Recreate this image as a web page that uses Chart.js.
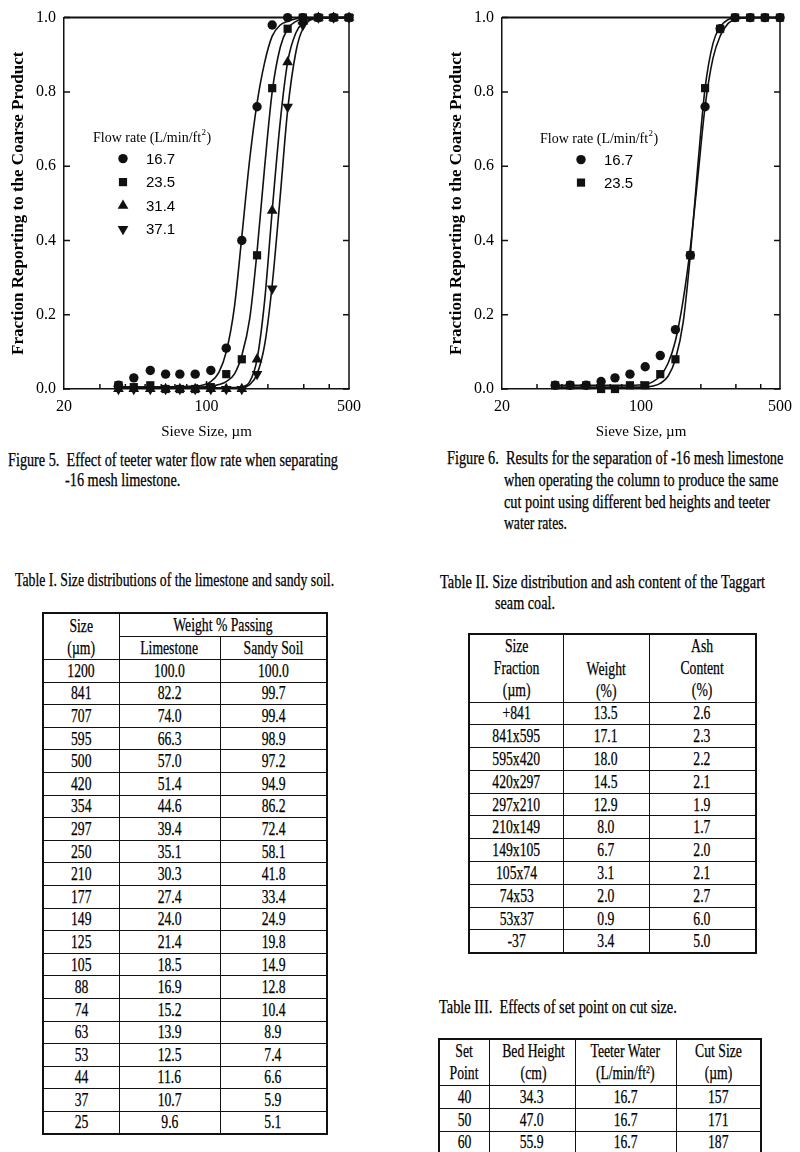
<!DOCTYPE html>
<html>
<head>
<meta charset="utf-8">
<title>Figures 5 and 6, Tables I - III</title>
<script src="https://cdn.jsdelivr.net/npm/chart.js@4.4.1/dist/chart.umd.min.js"></script>
<style>
  html, body { margin: 0; padding: 0; background: #fff; }
  #page { position: relative; width: 800px; height: 1152px; overflow: hidden; color: #000;
          font-family: "Liberation Serif", "Times New Roman", serif; -webkit-text-stroke: 0.25px #000; }
  canvas { position: absolute; top: 0; }
  .ln { position: absolute; white-space: nowrap; font-size: 18px; line-height: 20px;
        display: inline-block; transform-origin: 0 50%; }
  table { position: absolute; border-collapse: collapse; table-layout: fixed; font-size: 19px;
          border: 2px solid #111; }
  td { border: 1.5px solid #111; padding: 0; text-align: center; vertical-align: middle; line-height: 20px; }
  thead td { line-height: 22px; }
  td span { display: inline-block; transform: scaleX(0.72); white-space: nowrap; }
  sup { font-size: 11px; line-height: 0; vertical-align: 6px; }
</style>
</head>
<body>
<div id="page">
  <canvas id="fig5" width="400" height="445" style="left:0"></canvas>
  <canvas id="fig6" width="400" height="445" style="left:400px"></canvas>

  <span class="ln" style="left:8px;top:450px" data-w="330">Figure 5.&nbsp; Effect of teeter water flow rate when separating</span>
  <span class="ln" style="left:65px;top:470px" data-w="115">-16 mesh limestone.</span>

  <span class="ln" style="left:447px;top:448px" data-w="336">Figure 6.&nbsp; Results for the separation of -16 mesh limestone</span>
  <span class="ln" style="left:504px;top:470px" data-w="274">when operating the column to produce the same</span>
  <span class="ln" style="left:504px;top:492px" data-w="266">cut point using different bed heights and teeter</span>
  <span class="ln" style="left:504px;top:513px" data-w="63">water rates.</span>

  <span class="ln" style="left:15px;top:570px" data-w="319">Table I. Size distributions of the limestone and sandy soil.</span>
  <span class="ln" style="left:440px;top:572px" data-w="325">Table II. Size distribution and ash content of the Taggart</span>
  <span class="ln" style="left:495px;top:593px" data-w="60">seam coal.</span>
  <span class="ln" style="left:439px;top:997px" data-w="238">Table III.&nbsp; Effects of set point on cut size.</span>

  <table id="t1" style="left:42px;top:612px;width:284px">
    <colgroup><col style="width:76px"><col style="width:101px"><col style="width:107px"></colgroup>
    <thead>
      <tr style="height:20px"><td rowspan="2"><span>Size<br>(µm)</span></td><td colspan="2"><span>Weight % Passing</span></td></tr>
      <tr style="height:22px"><td><span>Limestone</span></td><td><span>Sandy Soil</span></td></tr>
    </thead>
    <tbody id="t1body"></tbody>
  </table>

  <table id="t2" style="left:468px;top:633px;width:287px">
    <colgroup><col style="width:94px"><col style="width:86px"><col style="width:107px"></colgroup>
    <thead>
      <tr style="height:68px"><td><span>Size<br>Fraction<br>(µm)</span></td><td style="vertical-align:bottom"><span>Weight<br>(%)</span></td><td><span>Ash<br>Content<br>(%)</span></td></tr>
    </thead>
    <tbody id="t2body"></tbody>
  </table>

  <table id="t3" style="left:438px;top:1038px;width:322px">
    <colgroup><col style="width:50px"><col style="width:86px"><col style="width:101px"><col style="width:85px"></colgroup>
    <thead>
      <tr style="height:46px"><td><span>Set<br>Point</span></td><td><span>Bed Height<br>(cm)</span></td><td><span>Teeter Water<br>(L/min/ft<sup>2</sup>)</span></td><td><span>Cut Size<br>(µm)</span></td></tr>
    </thead>
    <tbody id="t3body"></tbody>
  </table>
</div>

<script>
//**** data

// sieve sizes (um) where the points sit
const SIZES = [37, 44, 53, 63, 74, 88, 105, 125, 149, 177, 210, 250, 297, 354, 420, 500];
// sizes where the fitted curves were read
const FIT_SIZES = [37, 88, 105, 115, 125, 137, 149, 163, 177, 193, 210, 230, 250, 275, 297, 354, 500];

// Figure 5 - fraction to coarse product, one array per teeter flow rate
const fig5_167 = [0.01, 0.03, 0.05, 0.04, 0.04, 0.04, 0.05, 0.11, 0.40, 0.76, 0.98, 1.0, 1.0, 1.0, 1.0, 1.0];
const fig5_235 = [0.01, 0.005, 0.01, 0.0, 0.0, 0.0, 0.005, 0.04, 0.08, 0.36, 0.81, 0.97, 1.0, 1.0, 1.0, 1.0];
const fig5_314 = [0.0, 0.0, 0.0, 0.0, 0.0, 0.0, 0.0, 0.0, 0.0, 0.08, 0.48, 0.88, 0.99, 1.0, 1.0, 1.0];
const fig5_371 = [0.0, 0.0, 0.0, 0.0, 0.0, 0.0, 0.0, 0.0, 0.0, 0.04, 0.27, 0.76, 0.98, 1.0, 1.0, 1.0];
// Figure 5 fitted curves
const fit5_167 = [0.005, 0.008, 0.02, 0.045, 0.10, 0.22, 0.41, 0.62, 0.77, 0.88, 0.95, 0.98, 0.99, 0.997, 1.0, 1.0, 1.0];
const fit5_235 = [0.005, 0.005, 0.007, 0.012, 0.02, 0.04, 0.09, 0.19, 0.37, 0.60, 0.80, 0.92, 0.97, 0.99, 0.996, 1.0, 1.0];
const fit5_314 = [0.003, 0.003, 0.003, 0.003, 0.003, 0.004, 0.006, 0.02, 0.08, 0.24, 0.48, 0.72, 0.88, 0.96, 0.985, 1.0, 1.0];
const fit5_371 = [0.002, 0.002, 0.002, 0.002, 0.002, 0.003, 0.004, 0.012, 0.04, 0.12, 0.28, 0.52, 0.75, 0.91, 0.97, 0.998, 1.0];

// Figure 6
const fig6_167 = [0.01, 0.01, 0.01, 0.02, 0.03, 0.04, 0.06, 0.09, 0.16, 0.36, 0.76, 0.97, 1.0, 1.0, 1.0, 1.0];
const fig6_235 = [0.01, 0.01, 0.01, 0.0, 0.0, 0.01, 0.01, 0.04, 0.08, 0.36, 0.81, 0.97, 1.0, 1.0, 1.0, 1.0];
const fit6_167 = [0.01, 0.01, 0.012, 0.02, 0.035, 0.07, 0.13, 0.24, 0.38, 0.57, 0.76, 0.89, 0.95, 0.985, 0.995, 1.0, 1.0];
const fit6_235 = [0.005, 0.005, 0.005, 0.008, 0.015, 0.035, 0.08, 0.18, 0.36, 0.60, 0.81, 0.93, 0.975, 0.995, 1.0, 1.0, 1.0];

// axis ticks
const X_TICKS = [20, 100, 500];
const X_MINOR = [30, 40, 50, 60, 70, 80, 90, 100, 200, 300, 400];
const Y_TICKS = [0, 0.2, 0.4, 0.6, 0.8, 1.0];

// Table I
const t1Size = ['1200', '841', '707', '595', '500', '420', '354', '297', '250', '210', '177', '149', '125', '105', '88', '74', '63', '53', '44', '37', '25'];
const t1Lime = ['100.0', '82.2', '74.0', '66.3', '57.0', '51.4', '44.6', '39.4', '35.1', '30.3', '27.4', '24.0', '21.4', '18.5', '16.9', '15.2', '13.9', '12.5', '11.6', '10.7', '9.6'];
const t1Sand = ['100.0', '99.7', '99.4', '98.9', '97.2', '94.9', '86.2', '72.4', '58.1', '41.8', '33.4', '24.9', '19.8', '14.9', '12.8', '10.4', '8.9', '7.4', '6.6', '5.9', '5.1'];
// Table II
const t2Frac = ['+841', '841x595', '595x420', '420x297', '297x210', '210x149', '149x105', '105x74', '74x53', '53x37', '-37'];
const t2Wt = ['13.5', '17.1', '18.0', '14.5', '12.9', '8.0', '6.7', '3.1', '2.0', '0.9', '3.4'];
const t2Ash = ['2.6', '2.3', '2.2', '2.1', '1.9', '1.7', '2.0', '2.1', '2.7', '6.0', '5.0'];
// Table III
const t3Set = ['40', '50', '60'];
const t3Bed = ['34.3', '47.0', '55.9'];
const t3Water = ['16.7', '16.7', '16.7'];
const t3Cut = ['157', '171', '187'];


//**** marker look for each flow rate
const MARKS = {
    '16.7': { pointStyle: 'circle', radius: 4.7, rotation: 0 },
    '23.5': { pointStyle: 'rect', radius: 5.8, rotation: 0 },
    '31.4': { pointStyle: 'triangle', radius: 6.2, rotation: 0 },
    '37.1': { pointStyle: 'triangle', radius: 6.2, rotation: 180 }
};
const INK = '#111';

Chart.defaults.font.family = '"Liberation Serif", "Times New Roman", serif';
Chart.defaults.color = '#000';

function pts(xs, ys) {
    return xs.map((x, i) => ({ x: x, y: ys[i] }));
}

function pointSet(label, vals) {
    const m = MARKS[label];
    return {
        label: label,
        data: pts(SIZES, vals),
        showLine: false,
        pointStyle: m.pointStyle,
        pointRadius: m.radius,
        pointRotation: m.rotation,
        backgroundColor: INK,
        borderWidth: 0,
        clip: false
    };
}

function fitSet(vals) {
    return {
        label: 'fit',
        data: pts(FIT_SIZES, vals),
        showLine: true,
        pointRadius: 0,
        borderColor: INK,
        borderWidth: 1.6,
        cubicInterpolationMode: 'monotone',
        fill: false,
        clip: false
    };
}

// frame on top/right and the little inward ticks
const frameTicks = {
    id: 'frameTicks',
    afterDraw(chart) {
        const { ctx, chartArea: a, scales } = chart;
        ctx.save();
        ctx.strokeStyle = INK;
        ctx.lineWidth = 2;
        ctx.beginPath();
        ctx.moveTo(a.left, a.top);
        ctx.lineTo(a.right, a.top);
        ctx.stroke();
        ctx.lineWidth = 1.5;
        ctx.beginPath();
        ctx.moveTo(a.right, a.top);
        ctx.lineTo(a.right, a.bottom);
        Y_TICKS.forEach(v => {
            const py = scales.y.getPixelForValue(v);
            ctx.moveTo(a.left, py); ctx.lineTo(a.left + 6, py);
            ctx.moveTo(a.right, py); ctx.lineTo(a.right - 6, py);
        });
        X_MINOR.forEach(v => {
            const px = scales.x.getPixelForValue(v);
            ctx.moveTo(px, a.bottom);
            ctx.lineTo(px, a.bottom - (v === 100 ? 8 : 5));
        });
        ctx.stroke();
        ctx.restore();
    }
};

// legend that sits inside the plot, like the paper
const insideLegend = {
    id: 'insideLegend',
    afterDatasetsDraw(chart, args, opts) {
        const { ctx, chartArea: a } = chart;
        ctx.save();
        ctx.fillStyle = '#000';
        ctx.textBaseline = 'middle';
        let x = a.left + opts.titleX;
        const ty = a.top + opts.titleY;
        ctx.font = '14px "Liberation Serif", serif';
        ctx.fillText('Flow rate (L/min/ft', x, ty);
        x += ctx.measureText('Flow rate (L/min/ft').width;
        ctx.font = '9px "Liberation Serif", serif';
        ctx.fillText('2', x + 0.5, ty - 6);
        x += ctx.measureText('2').width + 1;
        ctx.font = '14px "Liberation Serif", serif';
        ctx.fillText(')', x, ty);

        ctx.font = '15px "Liberation Sans", Arial, sans-serif';
        opts.items.forEach((label, i) => {
            const y = a.top + opts.rowY[i];
            const m = MARKS[label];
            ctx.fillStyle = INK;
            Chart.helpers.drawPoint(ctx, { pointStyle: m.pointStyle, radius: m.radius, rotation: m.rotation, borderWidth: 0 },
                a.left + opts.markX, y);
            ctx.fillStyle = '#000';
            ctx.fillText(label, a.left + opts.textX, y + 1);
        });
        ctx.restore();
    }
};

function makeChart(id, datasets, pad, legendOpts) {
    return new Chart(document.getElementById(id), {
        type: 'scatter',
        data: { datasets: datasets },
        plugins: [frameTicks, insideLegend],
        options: {
            responsive: false,
            animation: false,
            devicePixelRatio: 1,
            layout: { padding: pad },
            plugins: {
                legend: { display: false },
                tooltip: { enabled: false },
                insideLegend: legendOpts
            },
            scales: {
                x: {
                    type: 'logarithmic',
                    min: 20,
                    max: 500,
                    afterBuildTicks: s => { s.ticks = X_TICKS.map(v => ({ value: v })); },
                    afterFit: s => { s.height = 56; },
                    ticks: { callback: v => String(v), padding: 8, font: { size: 16 }, maxRotation: 0, autoSkip: false },
                    grid: { display: false, drawTicks: false },
                    border: { display: true, color: INK, width: 1.5 },
                    title: { display: true, text: 'Sieve Size, µm', font: { size: 15 }, padding: { top: 4, bottom: 4 } }
                },
                y: {
                    min: 0,
                    max: 1,
                    afterBuildTicks: s => { s.ticks = Y_TICKS.map(v => ({ value: v })); },
                    afterFit: s => { s.width = 64; },
                    ticks: { callback: v => v.toFixed(1), padding: 8, font: { size: 16 } },
                    grid: { display: false, drawTicks: false },
                    border: { display: true, color: INK, width: 1.5 },
                    title: { display: true, text: 'Fraction Reporting to the Coarse Product',
                             font: { size: 17, weight: 'bold' }, padding: { top: 8, bottom: 0 } }
                }
            }
        }
    });
}

var fig5Chart = makeChart('fig5', [
    fitSet(fit5_167), fitSet(fit5_235), fitSet(fit5_314), fitSet(fit5_371),
    pointSet('16.7', fig5_167), pointSet('23.5', fig5_235), pointSet('31.4', fig5_314), pointSet('37.1', fig5_371)
], { left: 0, right: 51, top: 16, bottom: 0 },
   { titleX: 29, titleY: 121, markX: 59, textX: 82, rowY: [141, 164.5, 188, 211.5], items: ['16.7', '23.5', '31.4', '37.1'] });

var fig6Chart = makeChart('fig6', [
    fitSet(fit6_167), fitSet(fit6_235),
    pointSet('16.7', fig6_167), pointSet('23.5', fig6_235)
], { left: 38, right: 13, top: 15, bottom: 0 },
   { titleX: 38, titleY: 122, markX: 79, textX: 102, rowY: [142, 165], items: ['16.7', '23.5'] });


//**** tables
function fillRows(id, cols, h) {
    const tb = document.getElementById(id);
    cols[0].forEach((_, r) => {
        const tr = document.createElement('tr');
        tr.style.height = h + 'px';
        cols.forEach(c => {
            const td = document.createElement('td');
            td.innerHTML = '<span>' + c[r] + '</span>';
            tr.appendChild(td);
        });
        tb.appendChild(tr);
    });
}
fillRows('t1body', [t1Size, t1Lime, t1Sand], 22.6);
fillRows('t2body', [t2Frac, t2Wt, t2Ash], 22.8);
fillRows('t3body', [t3Set, t3Bed, t3Water, t3Cut], 23);

// squeeze caption lines to the width they have in the scan
document.querySelectorAll('.ln[data-w]').forEach(el => {
    el.style.transform = 'scaleX(' + (+el.dataset.w / el.offsetWidth) + ')';
});
</script>
</body>
</html>
